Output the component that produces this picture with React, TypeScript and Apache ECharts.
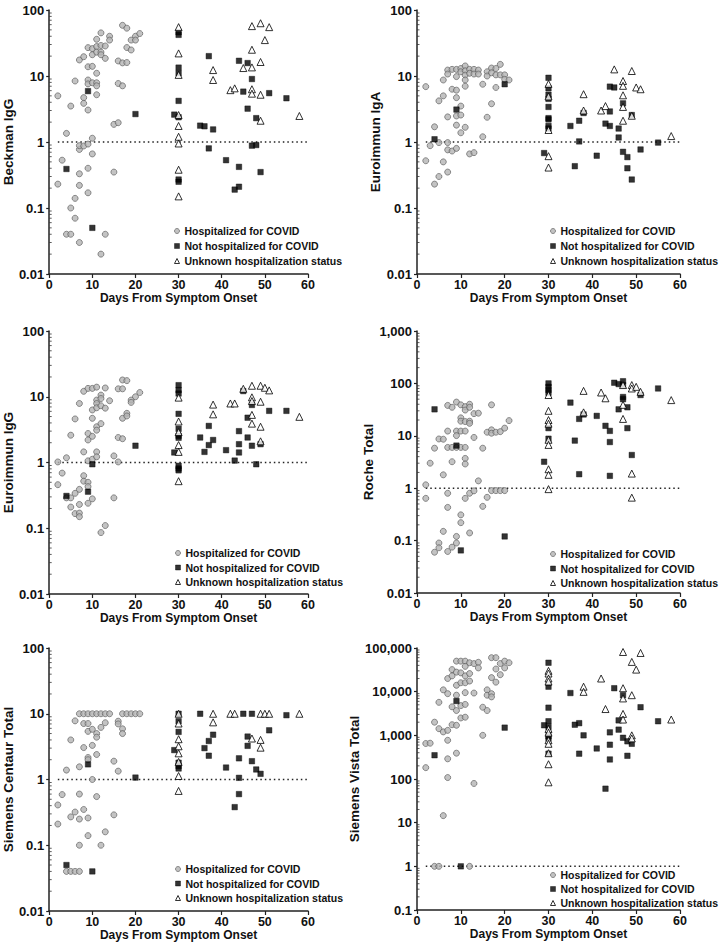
import React, { useEffect, useRef } from "react";
import * as echarts from "echarts";

type Pt = [number, number];

const X_TICKS = [0, 10, 20, 30, 40, 50, 60];
const SERIES_NAMES = ["Hospitalized for COVID", "Not hospitalized for COVID", "Unknown hospitalization status"];
const REF_LINE_DAYS = [2, 60];

// ---------- Beckman IgG ----------
const beckmanHosp: Pt[] = [[2,5],[2,0.23],[3,0.53],[4,1.35],[4,0.04],[5,0.04],[5,0.1],[5,3.5],[6,8.4],[6,0.14],[6,0.07],[7,17.5],[7,0.03],[7,0.22],[7,0.33],[7,0.77],[7,0.88],[8,19.6],[8,4.7],[8,3.85],[8,0.87],[9,26.9],[9,13.8],[9,8.7],[9,7.6],[9,3.05],[9,0.93],[9,0.4],[9,0.17],[10,26],[10,14],[10,21],[10,7.9],[10,1.14],[10,0.66],[11,36],[11,28],[11,23],[11,11],[11,7.9],[11,7.1],[11,5.2],[12,45],[12,29],[12,23],[12,21],[12,0.02],[13,28.5],[13,18.5],[13,0.04],[14,40],[14,35],[15,0.35],[15,1.85],[16,16.9],[16,7.7],[16,1.96],[17,58.6],[17,15.8],[17,7.1],[18,53],[18,27],[18,16],[19,35],[19,24.8],[20,40],[20,35],[21,44]];
const beckmanNot: Pt[] = [[4,0.39],[9,5.9],[10,0.05],[20,2.65],[29,2.6],[30,46],[30,42],[30,13.4],[30,11],[30,4.2],[30,2.37],[30,0.27],[30,0.25],[35,1.77],[36,1.73],[37,20],[37,0.8],[38,1.55],[41,0.53],[44,17],[46,15.7],[47,9],[45,5.8],[46,3.2],[48,2.3],[47,0.88],[48,0.9],[51,5.5],[55,4.6],[49,0.35],[44,0.42],[43,0.19],[44,0.21]];
const beckmanUnk: Pt[] = [[30,55],[30,22],[30,10.4],[30,2.56],[30,1.75],[30,1.2],[30,0.95],[30,0.38],[30,0.15],[38,12.3],[38,8.7],[42,6.1],[43,6.5],[45,13.2],[47,57],[47,25],[47,13.5],[47,6.3],[47,5.4],[49,63],[49,16.3],[49,5.2],[49,2.1],[50,35],[51,55],[58,2.48]];

// ---------- Euroimmun IgA ----------
const igaHosp: Pt[] = [[2,6.9],[2,0.52],[3,0.88],[4,1.7],[4,0.23],[5,4.2],[5,0.98],[5,0.3],[6,8.7],[6,5],[6,0.5],[7,12.3],[7,10.7],[7,2.4],[7,0.98],[7,0.76],[7,0.35],[8,12.6],[8,6.3],[8,0.73],[9,12.6],[9,9.8],[9,6.1],[9,4.7],[9,2.48],[9,1.8],[9,0.8],[10,13],[10,11.6],[10,3.5],[10,2.56],[10,1.38],[11,14.2],[11,12],[11,10.3],[11,8.7],[11,7],[11,1.67],[12,12.6],[12,11],[12,0.66],[13,12.6],[13,10.7],[13,0.69],[14,12.3],[14,10.7],[15,7.5],[15,1.2],[16,11.6],[16,10],[16,2.37],[17,13.2],[17,11.2],[17,3.8],[18,13],[18,10.4],[18,6.7],[19,15],[19,10.4],[20,10.4],[20,8.9],[21,8.7]];
const igaNot: Pt[] = [[4,1.1],[9,3.1],[20,7.5],[29,0.68],[30,9.4],[30,6.5],[30,5.2],[30,4.5],[30,3.4],[30,2.3],[30,2.2],[30,1.75],[30,1.6],[35,1.75],[36,0.43],[37,2.1],[37,1.02],[38,2.75],[41,0.62],[43,1.9],[44,1.75],[44,2.9],[44,6.9],[45,6.7],[46,1.6],[46,1.17],[47,3.85],[47,0.71],[48,0.59],[48,0.4],[49,2.56],[49,0.27],[51,0.77],[55,0.98]];
const igaUnk: Pt[] = [[30,7.6],[30,4.9],[30,1.52],[30,0.61],[30,0.41],[38,5.3],[38,3],[42,3],[43,3.5],[45,12.6],[47,8.4],[47,7.1],[47,5.1],[47,3.4],[47,2.1],[49,11.9],[49,2.5],[50,6.7],[51,6.3],[58,1.23]];

// ---------- Euroimmun IgG ----------
const iggHosp: Pt[] = [[2,1.02],[2,0.46],[3,0.69],[4,1.18],[4,0.29],[5,2.6],[5,0.29],[5,0.21],[6,4.6],[6,0.34],[6,0.167],[7,7.9],[7,0.39],[7,0.23],[7,0.17],[7,0.15],[8,12.1],[8,1.45],[8,0.63],[8,0.52],[9,13.4],[9,2.76],[9,2.2],[9,1.06],[9,0.5],[9,0.43],[9,0.24],[10,13.4],[10,6.3],[10,4.7],[10,2.5],[10,1.12],[10,0.28],[11,14],[11,8.9],[11,7.9],[11,6.8],[11,3.5],[11,3.1],[11,1.45],[11,1.22],[12,10.6],[12,9.4],[12,7.3],[12,3.9],[12,0.086],[13,13.6],[13,6.7],[13,0.11],[14,8.7],[15,1.26],[15,0.29],[16,13.2],[16,2.4],[16,1.02],[17,18],[17,13.2],[17,4.7],[17,2.3],[18,17.6],[18,5.6],[18,5.1],[19,8.9],[19,8.2],[20,10],[21,11.6]];
const iggNot: Pt[] = [[4,0.31],[9,0.36],[10,0.94],[20,1.8],[29,1.42],[30,15],[30,12.6],[30,11.2],[30,5.5],[30,3.25],[30,2.55],[30,2.38],[30,0.89],[30,0.81],[30,0.76],[35,2.4],[36,1.45],[37,3.6],[37,1.84],[38,2.2],[41,1.54],[43,1.07],[44,3],[44,1.9],[44,1.42],[45,12.2],[46,4.8],[46,2.4],[47,7.5],[47,1.8],[48,0.94],[49,1.9],[51,6.1],[55,6.1]];
const iggUnk: Pt[] = [[30,9.7],[30,4.2],[30,2.9],[30,1.84],[30,1.45],[30,0.52],[38,7.6],[38,5.4],[42,7.9],[43,7.9],[45,13.2],[47,14.7],[47,9.8],[47,8.6],[47,5.3],[47,3.9],[49,14.7],[49,8.4],[49,3.5],[49,2.1],[50,13.7],[51,12.5],[58,4.95]];

// ---------- Roche Total ----------
const rocheHosp: Pt[] = [[2,1.16],[2,0.64],[3,3],[4,5.8],[4,0.06],[5,8.7],[5,0.09],[5,0.073],[6,8.6],[6,1.8],[6,0.15],[7,38],[7,12.3],[7,6],[7,0.8],[7,0.43],[7,0.062],[8,35],[8,6],[8,3.2],[8,0.075],[9,44],[9,12.3],[9,10.1],[9,6],[9,0.12],[9,0.09],[10,39],[10,22],[10,19],[10,12.3],[10,6],[10,0.31],[10,0.22],[11,36],[11,31],[11,18.7],[11,12.3],[11,6],[11,3.7],[11,2.9],[11,0.64],[12,40],[12,35],[12,19],[12,17.3],[12,0.8],[12,0.14],[13,26.5],[13,9.3],[13,0.89],[14,27],[14,1.38],[15,5.8],[15,0.45],[16,11.7],[16,0.67],[17,39],[17,13],[17,11.2],[17,0.9],[18,11.7],[18,0.9],[19,12],[19,0.9],[20,14],[20,0.9],[21,19.5]];
const rocheNot: Pt[] = [[4,32],[9,6.5],[10,0.065],[20,0.12],[29,3.2],[30,100],[30,86],[30,75],[30,66],[30,14],[30,8.8],[35,43],[36,8.1],[37,21],[37,1.85],[38,25.5],[41,24],[43,15.5],[44,12.4],[44,7.6],[44,1.72],[45,103],[46,32],[46,97],[47,110],[47,93],[47,55],[47,50],[48,35],[48,14],[49,4.3],[51,60],[55,80]];
const rocheUnk: Pt[] = [[30,60],[30,30],[30,20],[30,17],[30,8.4],[30,6.7],[30,2.3],[30,1.8],[30,0.96],[38,28],[38,72],[42,67],[43,52],[47,93],[47,39],[47,21],[49,93],[49,80],[49,1.9],[49,0.66],[50,86],[51,69],[58,48]];

// ---------- Siemens Centaur Total ----------
const centaurHosp: Pt[] = [[2,0.41],[2,0.21],[3,0.59],[4,1.39],[4,0.04],[5,4],[5,0.27],[5,0.04],[6,7.8],[6,0.32],[6,0.04],[7,10],[7,1.56],[7,0.6],[7,0.25],[7,0.1],[7,0.04],[8,10],[8,7.1],[8,3.06],[8,0.35],[9,10],[9,7.1],[9,5.4],[9,2.16],[9,2],[9,0.26],[9,0.14],[10,10],[10,5.8],[10,3.3],[10,1],[11,10],[11,5],[11,4.4],[11,2.4],[11,0.55],[12,10],[12,6.2],[12,0.1],[13,10],[13,7.3],[13,0.16],[14,10],[15,1.9],[15,0.29],[16,7.7],[16,7],[16,1.34],[17,10],[17,5.9],[17,5],[18,10],[19,10],[20,10],[21,10]];
const centaurNot: Pt[] = [[4,0.05],[9,1.7],[10,0.04],[20,1.07],[29,2.8],[30,10],[30,7.7],[30,5.3],[30,1.8],[30,1.6],[30,1.47],[35,10],[36,3],[37,3.85],[37,2.3],[38,4.8],[41,1.52],[43,0.38],[44,2.1],[44,1.06],[44,0.6],[45,10],[46,4.5],[46,3.25],[47,10],[47,1.9],[48,1.42],[49,1.22],[51,5.6],[55,9.5]];
const centaurUnk: Pt[] = [[30,10],[30,7.1],[30,4.1],[30,3.2],[30,2.5],[30,1.85],[30,1.13],[30,0.67],[38,10],[38,7.4],[42,10],[43,10],[47,4.2],[49,10],[50,10],[51,10],[49,4],[49,3.05],[58,10]];

// ---------- Siemens Vista Total ----------
const vistaHosp: Pt[] = [[2,650],[2,182],[3,660],[4,2000],[4,1],[5,5700],[5,1420],[5,1],[6,11000],[6,1200],[6,14.5],[7,20000],[7,9000],[7,1300],[7,770],[7,290],[7,108],[8,32000],[8,23000],[8,4500],[8,1750],[9,50000],[9,28000],[9,14000],[9,8300],[9,3700],[9,1700],[9,390],[10,50000],[10,27000],[10,16000],[10,4800],[10,2500],[11,50000],[11,38000],[11,23000],[11,16000],[11,9500],[11,5100],[11,2600],[12,46000],[12,26000],[12,17500],[12,1],[13,44000],[13,9300],[13,79],[14,47000],[14,35000],[15,4400],[15,1000],[16,11000],[16,8300],[16,3700],[17,60000],[17,21000],[17,9000],[17,7600],[18,60000],[18,33000],[18,16500],[19,44000],[19,24500],[20,50000],[20,35000],[21,46000]];
const vistaNot: Pt[] = [[4,350],[9,6100],[10,1],[20,1500],[29,1700],[30,46000],[30,13000],[30,4300],[30,2100],[30,1550],[30,950],[30,840],[30,380],[35,9300],[36,1750],[37,1900],[37,380],[38,1000],[41,500],[43,60],[44,1170],[44,610],[44,280],[45,12000],[46,2200],[46,1350],[47,8300],[47,880],[48,730],[48,340],[49,640],[51,4400],[55,2100]];
const vistaUnk: Pt[] = [[30,30000],[30,26000],[30,20000],[30,17000],[30,1400],[30,1150],[30,770],[30,640],[30,390],[30,218],[30,84],[38,13000],[38,9900],[42,20000],[43,4000],[47,81000],[47,12000],[47,7000],[47,3100],[47,2300],[49,48000],[49,8300],[49,1000],[49,850],[50,32000],[51,77000],[58,2300]];

const FONT = "'Liberation Sans', Arial, Helvetica, sans-serif";

const PANELS = [
  { title: "Beckman IgG", min: 0.01, max: 100, data: [beckmanHosp, beckmanNot, beckmanUnk],
    grid: { left: 45, top: 10, width: 263, height: 264 }, nameGap: 22, legend: { left: 174, top: 224, gap: 1 } },
  { title: "Euroimmun IgA", min: 0.01, max: 100, data: [igaHosp, igaNot, igaUnk],
    grid: { left: 417, top: 10, width: 263, height: 264 }, nameGap: 22, legend: { left: 550, top: 224, gap: 1 } },
  { title: "Euroimmun IgG", min: 0.01, max: 100, data: [iggHosp, iggNot, iggUnk],
    grid: { left: 45, top: 331, width: 263, height: 263 }, nameGap: 22, legend: { left: 175, top: 546, gap: 0.5 } },
  { title: "Roche Total", min: 0.01, max: 1000, data: [rocheHosp, rocheNot, rocheUnk],
    grid: { left: 417, top: 331, width: 263, height: 262 }, nameGap: 34, legend: { left: 550, top: 547, gap: 0.5 } },
  { title: "Siemens Centaur Total", min: 0.01, max: 100, data: [centaurHosp, centaurNot, centaurUnk],
    grid: { left: 45, top: 648, width: 263, height: 263 }, nameGap: 22, legend: { left: 175, top: 862, gap: 0.5 } },
  { title: "Siemens Vista Total", min: 0.1, max: 100000, data: [vistaHosp, vistaNot, vistaUnk],
    grid: { left: 417, top: 648, width: 263, height: 262 }, nameGap: 46, legend: { left: 550, top: 868, gap: 0 } },
];

const SYMBOLS = [
  { symbol: "circle", size: 6, itemStyle: { color: "#b4b4b4", borderColor: "#555", borderWidth: 0.8 } },
  { symbol: "rect", size: 5.5, itemStyle: { color: "#000", borderColor: "#000", borderWidth: 0.5 } },
  { symbol: "triangle", size: 7, itemStyle: { color: "#fff", borderColor: "#000", borderWidth: 1 } },
];

function fmt(v: number): string {
  const r = Number(v.toPrecision(6));
  return r >= 1000 ? r.toLocaleString("en-US") : String(r);
}

function minorValues(min: number, max: number): number[] {
  const out: number[] = [];
  for (let d = min; d < max * 0.999; d *= 10) {
    for (let k = 2; k <= 9; k++) out.push(Number((d * k).toPrecision(6)));
  }
  return out;
}

export default function App() {
  const ref = useRef<HTMLDivElement>(null);
  useEffect(() => {
    if (!ref.current) return;
    const chart = echarts.init(ref.current, undefined, { renderer: "svg" });
    const grids: any[] = [];
    const xAxes: any[] = [];
    const yAxes: any[] = [];
    const legends: any[] = [];
    const series: any[] = [];
    PANELS.forEach((p, i) => {
      grids.push({ ...p.grid, containLabel: false });
      xAxes.push({
        type: "value", gridIndex: i, min: X_TICKS[0], max: X_TICKS[X_TICKS.length - 1], interval: 10,
        name: "Days From Symptom Onset", nameLocation: "middle", nameGap: 17,
        nameTextStyle: { fontFamily: FONT, fontSize: 12, fontWeight: "bold", color: "#111" },
        axisLine: { show: true, onZero: false, lineStyle: { color: "#222", width: 1.5 } },
        axisTick: { show: true, length: 4, lineStyle: { color: "#222", width: 1.2 } },
        axisLabel: { fontFamily: FONT, fontSize: 12.5, fontWeight: "bold", color: "#111", margin: 4 },
        splitLine: { show: false },
      });
      const decades = Math.round(Math.log10(p.max / p.min));
      yAxes.push({
        type: "log", logBase: 10, gridIndex: i, min: p.min, max: p.max, splitNumber: decades,
        name: p.title, nameLocation: "middle", nameGap: p.nameGap,
        nameTextStyle: { fontFamily: FONT, fontSize: 13.5, fontWeight: "bold", color: "#111" },
        axisLine: { show: true, lineStyle: { color: "#222", width: 1.5 } },
        axisTick: { show: true, length: 3, lineStyle: { color: "#222", width: 1.2 } },
        axisLabel: { fontFamily: FONT, fontSize: 13, fontWeight: "bold", color: "#111", margin: 5, formatter: fmt },
        splitLine: { show: false },
      });
      legends.push({
        orient: "vertical", left: p.legend.left, top: p.legend.top, padding: 0,
        itemGap: p.legend.gap, itemWidth: 5, itemHeight: 5, selectedMode: false,
        textStyle: { fontFamily: FONT, fontSize: 10.5, fontWeight: "bold", color: "#111", lineHeight: 14 },
        data: SERIES_NAMES.map((n, k) => ({
          name: n,
          icon: k === 0 ? "circle" : k === 1 ? "rect" : "triangle",
          itemStyle: SYMBOLS[k].itemStyle,
        })),
      });
      series.push({
        type: "line", xAxisIndex: i, yAxisIndex: i, silent: true, symbol: "none", z: 1,
        data: [[REF_LINE_DAYS[0], 1], [REF_LINE_DAYS[1], 1]],
        lineStyle: { color: "#222", width: 1.5, type: [1.5, 3] },
      });
      series.push({
        type: "custom", xAxisIndex: i, yAxisIndex: i, silent: true, clip: false, z: 3,
        data: minorValues(p.min, p.max).map((v) => [X_TICKS[0], v]),
        renderItem: (_params: any, api: any) => {
          const pt = api.coord([X_TICKS[0], api.value(1)]);
          return { type: "line", shape: { x1: pt[0], y1: pt[1], x2: pt[0] + 2.5, y2: pt[1] }, style: { stroke: "#333", lineWidth: 0.8 } };
        },
      });
      p.data.forEach((d, k) => {
        series.push({
          type: "scatter", name: SERIES_NAMES[k], xAxisIndex: i, yAxisIndex: i, z: 4 + k,
          symbol: SYMBOLS[k].symbol, symbolSize: SYMBOLS[k].size, itemStyle: SYMBOLS[k].itemStyle,
          data: d,
        });
      });
    });
    chart.setOption({
      animation: false,
      backgroundColor: "#fff",
      textStyle: { fontFamily: FONT },
      grid: grids, xAxis: xAxes, yAxis: yAxes, legend: legends, series,
    });
    return () => chart.dispose();
  }, []);
  return <div ref={ref} style={{ position: "absolute", left: 0, top: 0, width: 724, height: 948 }} />;
}
